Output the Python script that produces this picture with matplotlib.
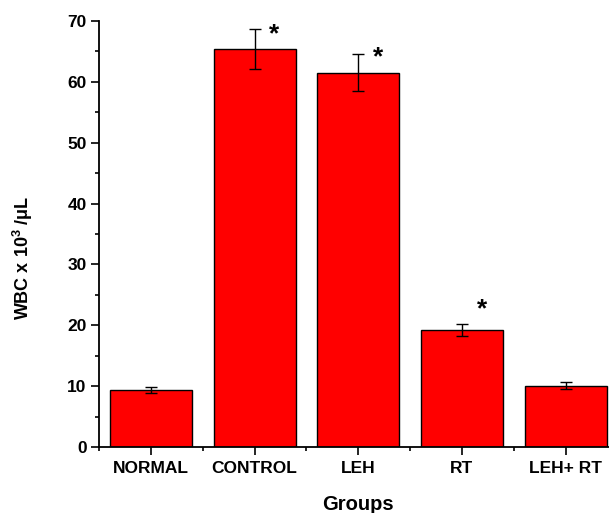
import matplotlib
matplotlib.use("Agg")
import matplotlib.pyplot as plt
import numpy as np
from matplotlib.ticker import MultipleLocator, FixedLocator

plt.rcParams['font.family'] = ['Liberation Sans', 'DejaVu Sans']
plt.rcParams['mathtext.fontset'] = 'custom'
plt.rcParams['mathtext.rm'] = 'Liberation Sans:bold'
plt.rcParams['mathtext.bf'] = 'Liberation Sans:bold'

categories = ["NORMAL", "CONTROL", "LEH", "RT", "LEH+ RT"]
values = [9.3, 65.4, 61.5, 19.2, 10.1]
errors = [0.5, 3.25, 3.05, 1.0, 0.55]
star_y = [None, 67.8, 64.0, 22.6, None]

fig = plt.figure(figsize=(6.09, 5.13), dpi=100)
ax = fig.add_axes([0.1626, 0.1287, 0.8374, 0.8304])

x = np.arange(1, len(categories) + 1)
ax.bar(x, values, width=0.79, color='#ff0000', edgecolor='black', linewidth=1.0, zorder=2)
ax.errorbar(x, values, yerr=errors, fmt='none', ecolor='black', elinewidth=1.0,
            capsize=4, capthick=1.0, zorder=3)

for xi, sy in zip(x, star_y):
    if sy is not None:
        ax.text(xi + 0.19, sy, '*', ha='center', va='center',
                fontsize=19, fontweight='bold')

ax.set_xlim(0.5, 5.418)
ax.set_ylim(0, 70)
ax.set_xticks(x)
ax.set_xticklabels(categories, fontsize=12.5, fontweight='bold')
ax.xaxis.set_minor_locator(FixedLocator(np.arange(0.5, 5.6, 1.0)))
ax.yaxis.set_major_locator(MultipleLocator(10))
ax.yaxis.set_minor_locator(MultipleLocator(5))
for lab in ax.get_yticklabels():
    lab.set_fontweight('bold')
    lab.set_fontsize(12.5)

ax.tick_params(axis='both', which='major', direction='out', length=6, width=1.2, pad=3)
ax.tick_params(axis='x', which='major', pad=4)
ax.tick_params(axis='both', which='minor', direction='out', length=3, width=1.2)

for sp in ['top', 'right']:
    ax.spines[sp].set_visible(False)
for sp in ['left', 'bottom']:
    ax.spines[sp].set_linewidth(1.3)

ax.set_xlabel('Groups', fontsize=14.5, fontweight='bold')
ax.set_ylabel(r'WBC x 10$^{3}$ /μL', fontsize=13, fontweight='bold')
ax.xaxis.set_label_coords(0.508, -0.112)
ax.yaxis.set_label_coords(-0.125, 0.444)

fig.savefig('out.png', dpi=100)
